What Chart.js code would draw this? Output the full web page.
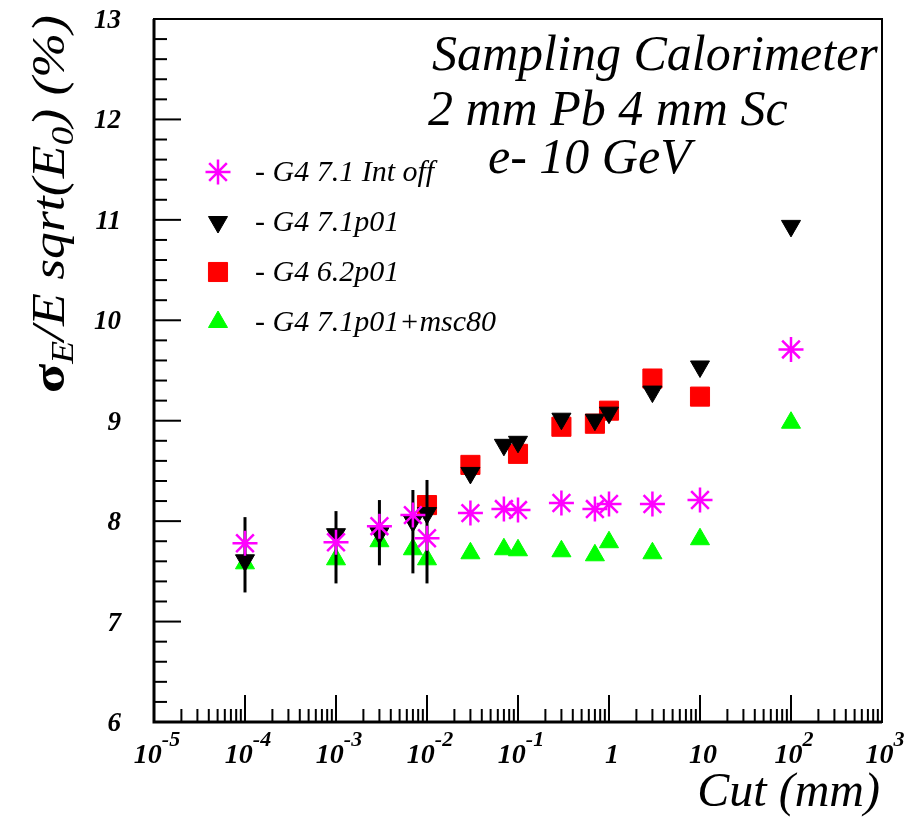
<!DOCTYPE html>
<html>
<head>
<meta charset="utf-8">
<script src="https://cdn.jsdelivr.net/npm/chart.js@4.4.0/dist/chart.umd.min.js"></script>
<style>
  html, body { margin: 0; padding: 0; background: #fff; }
  canvas { display: block; }
</style>
</head>
<body>
<canvas id="chart" width="916" height="819" style="width:916px;height:819px"></canvas>
<script>
// production cut values (mm)
const cuts = [1e-4, 1e-3, 3e-3, 7e-3, 1e-2, 3e-2, 7e-2, 0.1, 0.3, 0.7, 1, 3, 10, 100];

// sigma_E/E * sqrt(E0) in %
const g4IntOff  = [7.78, 7.79, 7.95, 8.06, 7.83, 8.08, 8.12, 8.11, 8.18, 8.12, 8.17, 8.17, 8.21, 9.71];
const g471p01   = [7.61, 7.87, 7.88, 8.00, 8.08, 8.48, 8.76, 8.79, 9.02, 9.01, 9.08, 9.29, 9.54, 10.94];
const g462p01   = [null, null, null, null, 8.16, 8.56, null, 8.67, 8.94, 8.97, 9.10, 9.42, 9.24, null];
const g4Msc80   = [7.58, 7.62, 7.80, 7.72, 7.62, 7.68, 7.72, 7.71, 7.70, 7.66, 7.79, 7.68, 7.82, 8.98];

// error bar ends for the G4 7.1p01 points (only the small cuts have them)
const errHigh = [8.04, 8.10, 8.21, 8.31, 8.41, null, null, null, null, null, null, null, null, null];
const errLow  = [7.29, 7.38, 7.56, 7.48, 7.38, null, null, null, null, null, null, null, null, null];

const seriesNames = ['- G4 7.1 Int off', '- G4 7.1p01', '- G4 6.2p01', '- G4 7.1p01+msc80'];

const xTickValues = [1e-5, 1e-4, 1e-3, 1e-2, 1e-1, 1, 10, 100, 1000];
const xTickLabels = ['10^-5', '10^-4', '10^-3', '10^-2', '10^-1', '1', '10', '10^2', '10^3'];
const yTickValues = [6, 7, 8, 9, 10, 11, 12, 13];
const yTickLabels = ['6', '7', '8', '9', '10', '11', '12', '13'];

const titleLines = ['Sampling Calorimeter', '2 mm Pb 4 mm Sc', 'e- 10 GeV'];

function toPoints(values) {
    const pts = [];
    values.forEach((v, i) => {
        if (v !== null) pts.push({ x: cuts[i], y: v });
    });
    return pts;
}

const SERIF = '"Liberation Serif", "Times New Roman", serif';

// draws a list of text pieces (with sub/superscripts) one after another
function drawParts(ctx, parts, x, y, align, stretch) {
    stretch = stretch || 1;
    let total = 0;
    parts.forEach(p => {
        ctx.font = p.font;
        p.w = ctx.measureText(p.text).width;
        total += p.w;
    });
    let start = x;
    if (align === 'center') start = x - total * stretch / 2;
    if (align === 'right') start = x - total * stretch;
    ctx.save();
    ctx.translate(start, y);
    ctx.scale(stretch, 1);
    ctx.textAlign = 'left';
    ctx.textBaseline = 'alphabetic';
    let cx = 0;
    parts.forEach(p => {
        ctx.font = p.font;
        ctx.fillText(p.text, cx, p.dy || 0);
        cx += p.w;
    });
    ctx.restore();
    return total;
}

const rootFrame = {
    id: 'rootFrame',
    beforeDraw(chart) {
        const ctx = chart.ctx;
        ctx.save();
        ctx.fillStyle = '#fff';
        ctx.fillRect(0, 0, chart.width, chart.height);
        ctx.restore();
    },
    beforeDatasetDraw(chart, args) {
        if (args.index !== 1) return;
        const ctx = chart.ctx;
        const xs = chart.scales.x, ys = chart.scales.y;
        ctx.save();
        ctx.strokeStyle = '#000';
        ctx.lineWidth = 3;
        cuts.forEach((c, i) => {
            if (errHigh[i] === null) return;
            const px = xs.getPixelForValue(c);
            ctx.beginPath();
            ctx.moveTo(px, ys.getPixelForValue(errLow[i]));
            ctx.lineTo(px, ys.getPixelForValue(errHigh[i]));
            ctx.stroke();
        });
        ctx.restore();
    },
    afterDraw(chart) {
        const ctx = chart.ctx;
        const a = chart.chartArea;
        const xs = chart.scales.x, ys = chart.scales.y;
        ctx.save();
        ctx.strokeStyle = '#000';
        ctx.fillStyle = '#000';

        // frame
        ctx.lineWidth = 2;
        ctx.strokeRect(a.left, a.top, a.right - a.left, a.bottom - a.top);
        ctx.lineWidth = 3;
        ctx.beginPath();
        ctx.moveTo(a.left, a.top);
        ctx.lineTo(a.left, a.bottom);
        ctx.lineTo(a.right, a.bottom);
        ctx.stroke();

        // x ticks (log, inward)
        ctx.lineWidth = 2;
        for (let e = -5; e < 3; e++) {
            for (let k = 1; k <= 9; k++) {
                const px = xs.getPixelForValue(k * Math.pow(10, e));
                const len = k === 1 ? 27 : 13;
                ctx.beginPath();
                ctx.moveTo(px, a.bottom);
                ctx.lineTo(px, a.bottom - len);
                ctx.stroke();
            }
        }
        // y ticks, minor every 0.2
        for (let i = 0; i <= 35; i++) {
            const v = 6 + i * 0.2;
            const py = ys.getPixelForValue(v);
            const len = i % 5 === 0 ? 27 : 13;
            ctx.beginPath();
            ctx.moveTo(a.left, py);
            ctx.lineTo(a.left + len, py);
            ctx.stroke();
        }

        // x tick labels
        xTickValues.forEach((v, i) => {
            const [base, exp] = xTickLabels[i].split('^');
            const parts = [{ text: base, font: 'italic bold 28px ' + SERIF }];
            if (exp) parts.push({ text: exp, font: 'italic bold 22px ' + SERIF, dy: -17 });
            drawParts(ctx, parts, xs.getPixelForValue(v) + 3, 763, 'center');
        });

        // y tick labels
        yTickValues.forEach((v, i) => {
            const py = ys.getPixelForValue(v);
            drawParts(ctx, [{ text: yTickLabels[i], font: 'italic bold 27px ' + SERIF }], 121, py + 9, 'right');
        });

        // x axis title
        drawParts(ctx, [{ text: 'Cut (mm)', font: 'italic 48px ' + SERIF }], 880, 806, 'right');

        // y axis title, rotated
        ctx.save();
        ctx.translate(64, 393);
        ctx.rotate(-Math.PI / 2);
        const yParts = [
            { text: 'σ', font: 'bold 46px ' + SERIF },
            { text: 'E', font: 'italic 32px ' + SERIF, dy: 9 },
            { text: '/E sqrt(E', font: 'italic 46px ' + SERIF },
            { text: '0', font: 'italic 32px ' + SERIF, dy: 9 },
            { text: ') (%)', font: 'italic 46px ' + SERIF }
        ];
        let w = 0;
        yParts.forEach(p => { ctx.font = p.font; w += ctx.measureText(p.text).width; });
        drawParts(ctx, yParts, 0, 0, 'left', 378 / w);
        ctx.restore();

        // header text
        const hx = [432, 428, 488];
        const hy = [70, 125, 173];
        titleLines.forEach((t, i) => {
            drawParts(ctx, [{ text: t, font: 'italic 50px ' + SERIF }], hx[i], hy[i], 'left');
        });

        // legend
        const rows = [172, 222, 272, 322];
        chart.data.datasets.forEach((ds, i) => {
            ctx.fillStyle = ds.backgroundColor;
            ctx.strokeStyle = ds.borderColor;
            ctx.lineWidth = ds.borderWidth;
            Chart.helpers.drawPoint(ctx, {
                pointStyle: ds.pointStyle,
                radius: ds.pointRadius,
                rotation: ds.rotation || 0,
                borderWidth: ds.borderWidth
            }, 218, rows[i]);
            ctx.fillStyle = '#000';
            drawParts(ctx, [{ text: seriesNames[i], font: 'italic 30px ' + SERIF }], 255, rows[i] + 9, 'left');
        });

        ctx.restore();
    }
};

new Chart(document.getElementById('chart'), {
    type: 'scatter',
    data: {
        datasets: [
            {
                label: seriesNames[0],
                data: toPoints(g4IntOff),
                pointStyle: 'star',
                pointRadius: 12.5,
                borderWidth: 2.5,
                borderColor: '#ff00ff',
                backgroundColor: '#ff00ff',
                order: 0
            },
            {
                label: seriesNames[1],
                data: toPoints(g471p01),
                pointStyle: 'triangle',
                rotation: 180,
                pointRadius: 11,
                borderWidth: 1,
                borderColor: '#000',
                backgroundColor: '#000',
                order: 1
            },
            {
                label: seriesNames[2],
                data: toPoints(g462p01),
                pointStyle: 'rect',
                pointRadius: 13.5,
                borderWidth: 1,
                borderColor: '#ff0000',
                backgroundColor: '#ff0000',
                order: 2
            },
            {
                label: seriesNames[3],
                data: toPoints(g4Msc80),
                pointStyle: 'triangle',
                pointRadius: 11,
                borderWidth: 1,
                borderColor: '#00ff00',
                backgroundColor: '#00ff00',
                order: 3
            }
        ]
    },
    options: {
        responsive: false,
        devicePixelRatio: 1,
        animation: false,
        layout: { padding: { left: 154, right: 34, top: 19, bottom: 97 } },
        plugins: { legend: { display: false }, tooltip: { enabled: false } },
        scales: {
            x: { type: 'logarithmic', min: 1e-5, max: 1e3, display: false },
            y: { type: 'linear', min: 6, max: 13, display: false }
        }
    },
    plugins: [rootFrame]
});
</script>
</body>
</html>
